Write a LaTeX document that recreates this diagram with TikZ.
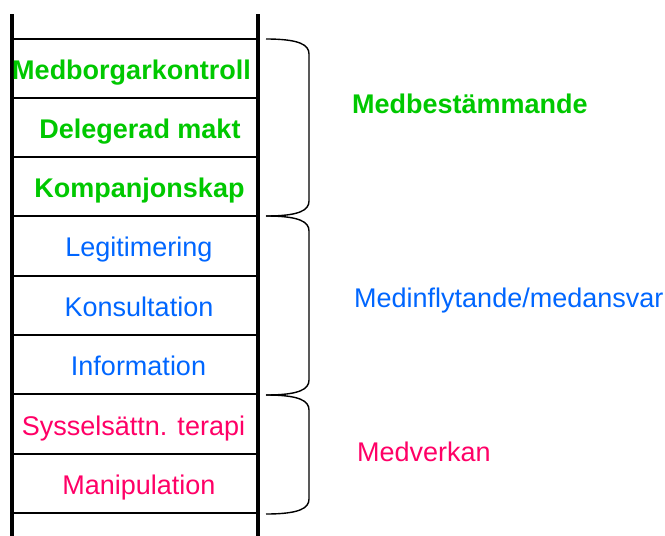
\documentclass[tikz,border=0pt]{standalone}
\usepackage{fontspec}
\setmainfont{Liberation Sans}
\definecolor{gruen}{RGB}{0,200,0}
\definecolor{blau}{RGB}{0,102,255}
\definecolor{rosa}{RGB}{255,0,102}

\begin{document}
\begin{tikzpicture}[x=1pt, y=-1pt,
  rail/.style={line width=4pt},
  rung/.style={line width=2.6pt},
  hook/.style={line width=1.4pt},
  stepname/.style={font=\fontsize{27}{30}\selectfont, inner sep=0pt, anchor=base},
  groupname/.style={font=\fontsize{27}{30}\selectfont, inner sep=0pt, anchor=base west}]
\useasboundingbox (0,0) rectangle (665,536);

% ladder
\coordinate (lt) at (12,14);
\coordinate (lb) at (12,536);
\coordinate (rt) at (258,14);
\coordinate (rb) at (258,536);
\foreach \y [count=\i] in {39,98,157,216,276,335,394,454,513} {
  \coordinate (l\i) at (12,\y);
  \coordinate (r\i) at (258,\y);
  \draw[rung] (l\i) -- (r\i);
}
\draw[rail] (lt) -- (lb);
\draw[rail] (rt) -- (rb);

% steps
\node (medborgar)[stepname, gruen, font=\fontsize{27}{30}\selectfont\bfseries] at (131.5,79) {Medborgarkontroll};
\node (delegerad)[stepname, gruen, font=\fontsize{27}{30}\selectfont\bfseries] at (140,138) {Delegerad makt};
\node (kompanjon)[stepname, gruen, font=\fontsize{27}{30}\selectfont\bfseries] at (139.5,197) {Kompanjonskap};
\node (legitim)[stepname, blau] at (139,256.5) {Legitimering};
\node (konsult)[stepname, blau] at (139,316.5) {Konsultation};
\node (info)[stepname, blau] at (138.5,375.5) {Information};
\node (syssel)[stepname, rosa] at (133.5,435) {Sysselsättn. terapi};
\node (manip)[stepname, rosa] at (139,494.5) {Manipulation};

% braces
\coordinate (b1) at (266,39);
\coordinate (b2) at (266,216);
\coordinate (b3) at (266,395);
\coordinate (b4) at (266,514);
\draw[hook] (b1) .. controls (300,39) and (309,45) .. (309,54) -- (309,201) .. controls (309,210) and (300,216) .. (b2);
\draw[hook] (b2) .. controls (300,216) and (309,222) .. (309,231) -- (309,380) .. controls (309,389) and (300,395) .. (b3);
\draw[hook] (b3) .. controls (300,395) and (309,401) .. (309,410) -- (309,499) .. controls (309,508) and (300,514) .. (b4);

% groups
\node (medbest)[groupname, gruen, font=\fontsize{27}{30}\selectfont\bfseries] at (352,113.5) {Medbestämmande};
\node (medinfl)[groupname, blau] at (354,307.5) {Medinflytande/medansvar};
\node (medverk)[groupname, rosa] at (357,461.5) {Medverkan};

\end{tikzpicture}
\end{document}
